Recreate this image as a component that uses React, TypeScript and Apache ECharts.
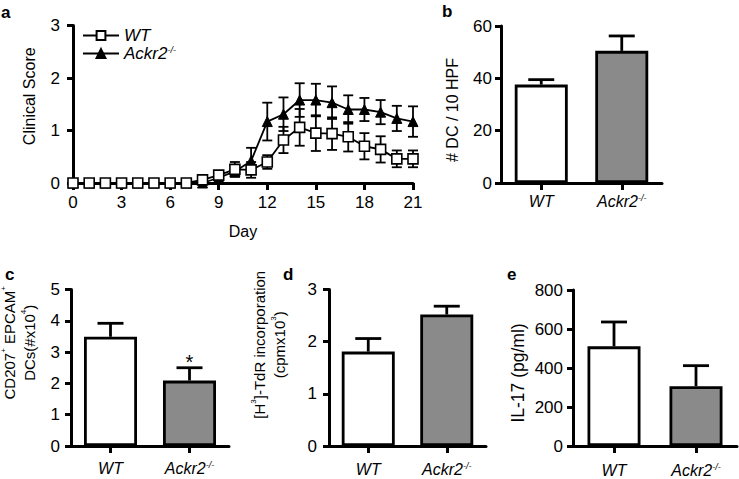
import React, { useEffect, useRef } from "react";
import * as echarts from "echarts";

// ---------- Data ----------
const days = [0, 1, 2, 3, 4, 5, 6, 7, 8, 9, 10, 11, 12, 13, 14, 15, 16, 17, 18, 19, 20, 21];
const wtScore = [0, 0, 0, 0, 0, 0, 0, 0, 0.06, 0.15, 0.26, 0.25, 0.4, 0.82, 1.06, 0.95, 0.94, 0.88, 0.7, 0.64, 0.46, 0.46];
const wtErr = [0, 0, 0, 0, 0, 0, 0, 0, 0.03, 0.07, 0.14, 0.15, 0.13, 0.25, 0.35, 0.34, 0.31, 0.28, 0.25, 0.25, 0.16, 0.16];
const ackScore = [0, 0, 0, 0, 0, 0, 0, 0, 0, 0.1, 0.22, 0.42, 1.17, 1.31, 1.58, 1.58, 1.53, 1.4, 1.4, 1.35, 1.23, 1.17];
const ackErr = [0, 0, 0, 0, 0, 0, 0, 0, 0, 0.05, 0.1, 0.25, 0.36, 0.32, 0.32, 0.31, 0.31, 0.27, 0.22, 0.23, 0.24, 0.29];

const groups = ["WT", "Ackr2-/-"];

const dcMean = [37.6, 50.5];
const dcErr = [1.9, 5.7];

const cd207Mean = [3.49, 2.09];
const cd207Err = [0.43, 0.41];
const cd207Sig = ["", "*"];

const thymMean = [1.81, 2.52];
const thymErr = [0.25, 0.16];

const il17Mean = [511, 307];
const il17Err = [125, 105];

const panelLetters = ["a", "b", "c", "d", "e"];

// ---------- Styles ----------
const FONT = "'Liberation Sans', Arial, Helvetica, sans-serif";
const INK = "#000000";
const FILLS = ["#ffffff", "#8a8a8a"];
const AXW = 3;
const TKW = 3;

const groupLabel = (v: string) => (v === "WT" ? "{i|WT}" : "{i|Ackr2}{s|-/-}");
const italicRich = (size: number) => ({
  i: { fontFamily: FONT, fontStyle: "italic", fontSize: size, color: INK },
  s: { fontFamily: FONT, fontStyle: "italic", fontSize: Math.round(size * 0.55), color: INK, verticalAlign: "top" },
});

function axisCommon(tickLen = 6) {
  return {
    axisLine: { show: true, onZero: false, lineStyle: { color: INK, width: AXW, opacity: 1, type: "solid" } },
    axisTick: { show: true, inside: false, length: tickLen, lineStyle: { color: INK, width: TKW, opacity: 1 } },
    splitLine: { show: false },
  };
}

function yAxisFor(grid: number, min: number, max: number, interval: number, name: string, nameGap: number, nameSize: number, labelMargin: number, namePad: number[], labelSize = 17) {
  return {
    type: "value",
    gridIndex: grid,
    min,
    max,
    interval,
    name,
    nameLocation: "middle",
    nameGap,
    nameRotate: 90,
    nameTextStyle: {
      fontFamily: FONT,
      fontSize: nameSize,
      color: INK,
      lineHeight: nameSize + 5,
      padding: namePad,
      rich: {
        n: { fontFamily: FONT, fontSize: nameSize, color: INK },
        s: { fontFamily: FONT, fontSize: Math.round(nameSize * 0.55), color: INK, verticalAlign: "top" },
      },
    },
    axisLabel: { fontFamily: FONT, fontSize: labelSize, color: INK, margin: labelMargin },
    ...axisCommon(6),
  };
}

function catAxisFor(grid: number, labelMargin: number) {
  return {
    type: "category",
    gridIndex: grid,
    data: groups,
    boundaryGap: true,
    axisLabel: {
      interval: 0,
      hideOverlap: false,
      formatter: groupLabel,
      margin: labelMargin,
      rich: italicRich(16),
    },
    ...axisCommon(),
    axisTick: { show: true, inside: false, alignWithLabel: true, interval: 0, length: 7, lineStyle: { color: INK, width: TKW } },
  };
}

function barSeries(grid: number, mean: number[]) {
  return {
    type: "bar",
    xAxisIndex: grid,
    yAxisIndex: grid,
    barWidth: 53,
    z: 3,
    data: mean.map((v, i) => ({ value: v, itemStyle: { color: FILLS[i] } })),
    itemStyle: { borderColor: INK, borderWidth: 2.8 },
    silent: true,
  };
}

function barErrSeries(grid: number, mean: number[], err: number[], sig?: string[]) {
  return {
    type: "custom",
    xAxisIndex: grid,
    yAxisIndex: grid,
    z: 2,
    silent: true,
    data: mean.map((v, i) => [i, v, err[i]]),
    renderItem: (params: any, api: any) => {
      const x = api.value(0);
      const y = api.value(1);
      const e = api.value(2);
      const p0 = api.coord([x, y]);
      const p1 = api.coord([x, y + e]);
      const w = 13;
      const st = { stroke: INK, lineWidth: 2.8 };
      const children: any[] = [
        { type: "line", shape: { x1: p0[0], y1: p0[1], x2: p1[0], y2: p1[1] }, style: st },
        { type: "line", shape: { x1: p1[0] - w, y1: p1[1], x2: p1[0] + w, y2: p1[1] }, style: st },
      ];
      const s = sig ? sig[params.dataIndex] : "";
      if (s) {
        children.push({
          type: "text",
          x: p1[0],
          y: p1[1] - 6,
          style: { text: s, fontFamily: FONT, fontSize: 20, fill: INK, align: "center", verticalAlign: "middle" },
        });
      }
      return { type: "group", children };
    },
  };
}

function lineErrSeries(vals: number[], errs: number[]) {
  return {
    type: "custom",
    xAxisIndex: 0,
    yAxisIndex: 0,
    z: 2,
    silent: true,
    data: days.map((d, i) => [d, vals[i], errs[i]]),
    renderItem: (params: any, api: any) => {
      const x = api.value(0);
      const y = api.value(1);
      const e = api.value(2);
      if (!e) return null;
      const hi = api.coord([x, y + e]);
      const lo = api.coord([x, Math.max(0, y - e)]);
      const w = 5;
      const st = { stroke: INK, lineWidth: 1.8 };
      return {
        type: "group",
        children: [
          { type: "line", shape: { x1: hi[0], y1: hi[1], x2: lo[0], y2: lo[1] }, style: st },
          { type: "line", shape: { x1: hi[0] - w, y1: hi[1], x2: hi[0] + w, y2: hi[1] }, style: st },
          { type: "line", shape: { x1: lo[0] - w, y1: lo[1], x2: lo[0] + w, y2: lo[1] }, style: st },
        ],
      };
    },
  };
}

const panelLabelPos = [
  { x: 1, y: 4 },
  { x: 442, y: 3 },
  { x: 5, y: 266 },
  { x: 283, y: 266 },
  { x: 507, y: 266 },
];

export default function App() {
  const ref = useRef<HTMLDivElement>(null);
  useEffect(() => {
    if (!ref.current) return;
    const chart = echarts.init(ref.current, undefined, { renderer: "svg" });
    const grids = [
      { left: 73, top: 25.5, width: 340, height: 157.5 },
      { left: 501, top: 26, width: 161, height: 157 },
      { left: 71, top: 289.5, width: 158, height: 156.5 },
      { left: 329, top: 289.5, width: 157, height: 156.5 },
      { left: 573, top: 290, width: 164, height: 156 },
    ].map((g) => ({ ...g, containLabel: false, outerBoundsMode: "none", show: false }));

    const option: any = {
      animation: false,
      backgroundColor: "#ffffff",
      textStyle: { fontFamily: FONT },
      grid: grids,
      legend: {
        show: true,
        orient: "vertical",
        left: 77,
        top: 22,
        itemWidth: 36,
        itemHeight: 11,
        itemGap: 1,
        data: ["WT", "Ackr2-/-"],
        formatter: groupLabel,
        textStyle: { rich: italicRich(17), padding: [0, 0, 0, 0] },
        selectedMode: false,
      },
      xAxis: [
        {
          type: "value",
          gridIndex: 0,
          min: 0,
          max: 21,
          interval: 3,
          name: "Day",
          nameLocation: "middle",
          nameGap: 40,
          nameTextStyle: { fontFamily: FONT, fontSize: 16, color: INK },
          axisLabel: { fontFamily: FONT, fontSize: 17, color: INK, margin: 11 },
          ...axisCommon(7),
        },
        catAxisFor(1, 10),
        catAxisFor(2, 14),
        catAxisFor(3, 15),
        catAxisFor(4, 16),
      ],
      yAxis: [
        yAxisFor(0, 0, 3, 1, "Clinical Score", 33, 16, 13, [0, 0, 0, 16]),
        yAxisFor(1, 0, 60, 20, "# DC / 10 HPF", 38, 16, 9, [0, 11, 0, 0]),
        yAxisFor(2, 0, 5, 1, "{n|CD207}{s|+}{n| EPCAM}{s|+}\n{n|DCs(#x10}{s|4}{n|)}", 32, 15, 11, [0, 0, 0, 50]),
        yAxisFor(3, 0, 3, 1, "{n|[H}{s|3}{n|]-TdR incorporation}\n{n|(cpmx10}{s|3}{n|)}", 40, 15, 12, [0, 0, 0, 46]),
        yAxisFor(4, 0, 800, 200, "IL-17 (pg/ml)", 44, 17.5, 10, [0, 10, 0, 0]),
      ],
      series: [
        lineErrSeries(ackScore, ackErr),
        lineErrSeries(wtScore, wtErr),
        {
          type: "line",
          name: "Ackr2-/-",
          xAxisIndex: 0,
          yAxisIndex: 0,
          z: 3,
          data: days.map((d, i) => [d, ackScore[i]]),
          symbol: "triangle",
          symbolSize: 10,
          showAllSymbol: true,
          lineStyle: { color: INK, width: 1.8 },
          itemStyle: { color: INK, borderColor: INK, borderWidth: 1 },
          silent: true,
        },
        {
          type: "line",
          name: "WT",
          xAxisIndex: 0,
          yAxisIndex: 0,
          z: 4,
          data: days.map((d, i) => [d, wtScore[i]]),
          symbol: "rect",
          symbolSize: 10,
          showAllSymbol: true,
          lineStyle: { color: INK, width: 1.8 },
          itemStyle: { color: "#ffffff", borderColor: INK, borderWidth: 1.6 },
          silent: true,
        },
        barErrSeries(1, dcMean, dcErr),
        barSeries(1, dcMean),
        barErrSeries(2, cd207Mean, cd207Err, cd207Sig),
        barSeries(2, cd207Mean),
        barErrSeries(3, thymMean, thymErr),
        barSeries(3, thymMean),
        barErrSeries(4, il17Mean, il17Err),
        barSeries(4, il17Mean),
      ],
      graphic: panelLetters.map((t, i) => ({
        type: "text",
        left: panelLabelPos[i].x,
        top: panelLabelPos[i].y,
        style: { text: t, fontFamily: FONT, fontSize: 17, fontWeight: "bold", fill: INK },
      })),
    };
    chart.setOption(option);
    return () => chart.dispose();
  }, []);
  return (
    <div
      ref={ref}
      style={{ position: "absolute", left: 0, top: 0, width: 739, height: 479, background: "#fff" }}
    />
  );
}
